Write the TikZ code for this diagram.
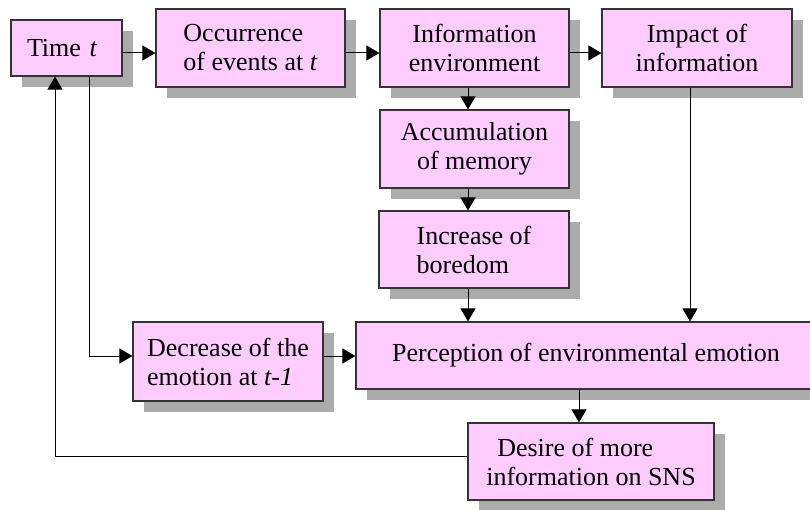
\documentclass[tikz,border=0pt]{standalone}
\usepackage{fontspec}
\setmainfont{Liberation Serif}
\usetikzlibrary{arrows.meta,shadows,calc}
\definecolor{boxpink}{HTML}{FFCCFF}
\definecolor{shadowgray}{HTML}{ABABAB}
\definecolor{edgegray}{HTML}{333333}
\begin{document}
\begin{tikzpicture}[x=1pt,y=-1pt,
  box/.style={draw=edgegray, line width=1.2pt, fill=boxpink, inner sep=0pt,
    font=\fontsize{26}{29}\selectfont,
    drop shadow={shadow xshift=11pt, shadow yshift=-11pt, fill=shadowgray, opacity=1, draw=none}},
  arr/.style={-{Triangle[length=13pt,width=15pt]}, line width=1pt, draw=black},
]
\useasboundingbox (0,0) rectangle (810,510);
\clip (0,0) rectangle (810,510);

\node[box, minimum width=111pt, minimum height=56pt, inner xsep=16pt, text width=79pt, align=left] (time) at (66.5,48) {Time \textit{t}};
\node[box, minimum width=189pt, minimum height=78pt, align=left] (occ) at (250.5,48) {Occurrence\\of events at \textit{t}};
\node[box, minimum width=189pt, minimum height=78pt, align=center] (info) at (474.5,48) {Information\\environment};
\node[box, minimum width=190pt, minimum height=78pt, align=center] (impact) at (697,48) {Impact of\\information};
\node[box, minimum width=189pt, minimum height=78pt, align=center] (accum) at (474.5,149) {Accumulation\\of memory};
\node[box, minimum width=190pt, minimum height=77pt, align=left] (incr) at (474,249.5) {Increase of\\boredom};
\node[box, minimum width=460pt, minimum height=67pt, align=center] (perc) at (586,355.5) {Perception of environmental emotion};
\node[box, minimum width=190pt, minimum height=79pt, align=left] (decr) at (228,361.5) {Decrease of the\\emotion at \textit{t-1}};
\node[box, minimum width=246pt, minimum height=77pt, align=left] (desire) at (591,461.5) {\hspace*{11pt}Desire of more\\information on SNS};

\draw[arr] (time.east |- 0,53) -- (occ.west |- 0,53);
\draw[arr] (occ.east |- 0,53) -- (info.west |- 0,53);
\draw[arr] (info.east |- 0,53) -- (impact.west |- 0,53);
\draw[arr] (info.south -| 468,0) -- (accum.north -| 468,0);
\draw[arr] (accum.south -| 468,0) -- (incr.north -| 468,0);
\draw[arr] (incr.south -| 468,0) -- (perc.north -| 468,0);
\draw[arr] (impact.south -| 690,0) -- (perc.north -| 690,0);
\draw[arr] (decr.east |- 0,356) -- (perc.west |- 0,356);
\draw[arr] (perc.south -| 579,0) -- (desire.north -| 579,0);
\coordinate (tdown) at (89,356);
\coordinate (loopcorner) at (55,456);
\draw[arr] (time.south -| tdown) -- (tdown) -- (decr.west |- tdown);
\draw[arr] (desire.west |- loopcorner) -- (loopcorner) -- (time.south -| loopcorner);
\end{tikzpicture}
\end{document}
